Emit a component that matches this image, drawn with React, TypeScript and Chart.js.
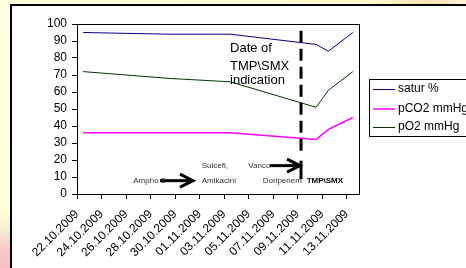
import React, { useEffect, useRef } from "react";
import { Chart, registerables } from "chart.js";

Chart.register(...registerables);

const tickLabels = [
  "22.10.2009", "24.10.2009", "26.10.2009", "28.10.2009", "30.10.2009", "01.11.2009",
  "03.11.2009", "05.11.2009", "07.11.2009", "09.11.2009", "11.11.2009", "13.11.2009",
];
const measureDates = ["22.10.2009", "29.10.2009", "03.11.2009", "10.11.2009", "11.11.2009", "13.11.2009"];
const saturValues = [95, 94, 94, 88, 84, 95];
const pCO2Values = [36, 36, 36, 32, 38, 45];
const pO2Values = [72, 68, 66, 51, 61, 72];
const seriesNames = ["satur %", "pCO2 mmHg", "pO2 mmHg"];
const seriesColors = ["#000080", "#FF00FF", "#003300"];
const yTicks = [0, 10, 20, 30, 40, 50, 60, 70, 80, 90, 100];

const dayNum = (s: string) => {
  const [d, m, y] = s.split(".").map(Number);
  return Date.UTC(y, m - 1, d) / 86400000;
};
const startDay = dayNum(tickLabels[0]);
const endDay = dayNum(tickLabels[tickLabels.length - 1]) + 1;
// Excel date axis: each value sits in the middle of its day slot
const toPoints = (vals: number[]) =>
  vals.map((v, i) => ({ x: dayNum(measureDates[i]) - startDay + 0.5, y: v }));

const FONT = "'Liberation Sans', Arial, sans-serif";

const overlayPlugin = {
  id: "overlay",
  afterDraw(chart: any) {
    const { ctx, chartArea: ca } = chart;
    const xs = chart.scales.x;
    const ys = chart.scales.y;
    const px = (v: number) => xs.getPixelForValue(v);
    const py = (v: number) => ys.getPixelForValue(v);
    ctx.save();
    // plot area border
    ctx.strokeStyle = "#000";
    ctx.lineWidth = 1;
    ctx.strokeRect(Math.round(ca.left) + 0.5, Math.round(ca.top) + 0.5, Math.round(ca.right - ca.left), Math.round(ca.bottom - ca.top));

    // dashed indication line
    ctx.lineWidth = 3;
    ctx.setLineDash([12, 6]);
    ctx.beginPath();
    ctx.moveTo(px(18.27), py(96));
    ctx.lineTo(px(18.27), py(25));
    ctx.stroke();
    ctx.setLineDash([]);

    // bar at arrow 2
    ctx.beginPath();
    ctx.moveTo(px(18.27), py(19.6));
    ctx.lineTo(px(18.27), py(8.8));
    ctx.stroke();

    const arrow = (x1: number, x2: number, yv: number) => {
      const a = px(x1), b = px(x2), y = py(yv);
      ctx.lineWidth = 3;
      ctx.beginPath();
      ctx.moveTo(a, y);
      ctx.lineTo(b - 1, y);
      ctx.stroke();
      ctx.beginPath();
      ctx.moveTo(b - 13, y - 6.5);
      ctx.lineTo(b, y);
      ctx.lineTo(b - 13, y + 6.5);
      ctx.stroke();
    };
    arrow(6.77, 9.46, 7.85);
    arrow(15.74, 18.19, 16.7);

    // big annotation text
    ctx.fillStyle = "#000";
    ctx.font = `13px ${FONT}`;
    ctx.textAlign = "left";
    ctx.textBaseline = "middle";
    ctx.fillText("Date of", px(12.48), py(85.4));
    ctx.fillText("TMP\\SMX", px(12.48), py(75.2));
    ctx.fillText("indication", px(12.48), py(66.6));

    // small annotation text
    ctx.fillStyle = "#333";
    ctx.font = `8px ${FONT}`;
    ctx.fillText("Ampho B", px(4.59), py(7.85));
    ctx.fillText("Sulcefi,", px(10.17), py(16.7));
    ctx.fillText("Amikacini", px(10.17), py(7.85));
    ctx.fillText("Vanco", px(13.97), py(16.7));
    ctx.fillText("Doripenem", px(15.15), py(7.85));
    ctx.fillStyle = "#000";
    ctx.font = `bold 8px ${FONT}`;
    ctx.fillText("TMP\\SMX", px(18.73), py(7.85));

    // legend
    const lx = 369, ly = 79, lh = 57;
    ctx.lineWidth = 1;
    ctx.strokeStyle = "#000";
    ctx.strokeRect(lx + 0.5, ly + 0.5, 140, lh);
    const rows = [89, 108.5, 127];
    ctx.font = `12px ${FONT}`;
    ctx.fillStyle = "#000";
    seriesNames.forEach((name, i) => {
      ctx.strokeStyle = seriesColors[i];
      ctx.lineWidth = i === 1 ? 1.5 : 1;
      ctx.beginPath();
      ctx.moveTo(373, rows[i] + 0.5);
      ctx.lineTo(395, rows[i] + 0.5);
      ctx.stroke();
      ctx.fillText(name, 398, rows[i]);
    });
    ctx.restore();
  },
};

export default function App() {
  const ref = useRef<HTMLCanvasElement>(null);
  useEffect(() => {
    if (!ref.current) return;
    const seriesValues = [saturValues, pCO2Values, pO2Values];
    const chart = new Chart(ref.current, {
      type: "line",
      data: {
        datasets: seriesNames.map((name, i) => ({
          label: name,
          data: toPoints(seriesValues[i]),
          borderColor: seriesColors[i],
          backgroundColor: seriesColors[i],
          borderWidth: i === 1 ? 1.5 : 1,
          pointRadius: 0,
          tension: 0,
          fill: false,
        })),
      },
      options: {
        animation: false,
        responsive: false,
        devicePixelRatio: 1,
        layout: { padding: { top: 24, right: 107, left: 0, bottom: 0 } },
        plugins: { legend: { display: false }, tooltip: { enabled: false } },
        scales: {
          x: {
            type: "linear",
            min: 0,
            max: endDay - startDay,
            afterBuildTicks: (s: any) => {
              s.ticks = tickLabels.map((l) => ({ value: dayNum(l) - startDay }));
            },
            afterFit: (s: any) => {
              s.height = 74;
            },
            ticks: {
              autoSkip: false,
              minRotation: 45,
              maxRotation: 45,
              color: "#000",
              padding: 8,
              font: { family: FONT, size: 12 },
              callback: (v: any) => tickLabels[Math.round(Number(v) / 2)] ?? "",
            },
            grid: { drawOnChartArea: false, drawTicks: true, tickLength: 5, color: "#000" },
            border: { color: "#000", width: 1 },
          },
          y: {
            min: 0,
            max: 100,
            afterBuildTicks: (s: any) => {
              s.ticks = yTicks.map((v) => ({ value: v }));
            },
            afterFit: (s: any) => {
              s.width = 77;
            },
            ticks: { autoSkip: false, color: "#000", padding: 5, font: { family: FONT, size: 12 } },
            grid: { drawOnChartArea: false, drawTicks: true, tickLength: 5, color: "#000" },
            border: { color: "#000", width: 1 },
          },
        },
      },
      plugins: [overlayPlugin],
    });
    return () => chart.destroy();
  }, []);

  return (
    <div
      style={{
        position: "fixed",
        left: 0,
        top: 0,
        width: 466,
        height: 268,
        overflow: "hidden",
        background: "linear-gradient(to right, #FFFFD8 0%, #FFFAD0 80%, #FFE2B4 92%, #FFF2D4 100%)",
      }}
    >
      <div
        style={{
          position: "absolute",
          left: 0,
          top: 0,
          width: 10,
          height: 268,
          background: "linear-gradient(to bottom, #FFFFE0 0%, #FFFFD8 78%, #F4F0D0 86%, #F8C8C8 93%, #F8C0C0 100%)",
        }}
      />
      <div
        style={{
          position: "absolute",
          left: 10,
          top: 4,
          width: 460,
          height: 270,
          background: "#fff",
          borderLeft: "2px solid #000",
          borderTop: "2px solid #000",
        }}
      />
      <canvas ref={ref} width={466} height={268} style={{ position: "absolute", left: 0, top: 0 }} />
    </div>
  );
}
